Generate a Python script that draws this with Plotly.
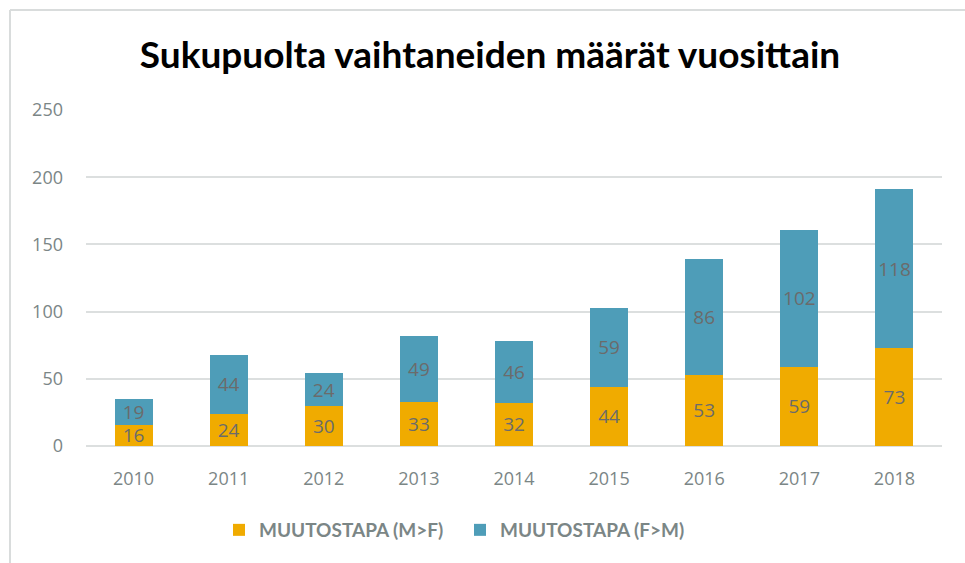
import plotly.graph_objects as go

years = ["2010", "2011", "2012", "2013", "2014", "2015", "2016", "2017", "2018"]
mtf = [16, 24, 30, 33, 32, 44, 53, 59, 73]
ftm = [19, 44, 24, 49, 46, 59, 86, 102, 118]
tick_vals = [0, 50, 100, 150, 200, 250]

W, H = 965, 563
L, R, T, B = 86, 23, 110, 117

fig = go.Figure()
fig.add_bar(x=years, y=mtf, name="<b>MUUTOSTAPA (M>F)</b>", marker_color="#F0AB00",
            text=mtf, textposition="inside", insidetextanchor="middle", textangle=0,
            constraintext="none",
            textfont=dict(color="#6b6b6b", size=19, family="Open Sans"), marker_line_width=0)
fig.add_bar(x=years, y=ftm, name="<b>MUUTOSTAPA (F>M)</b>", marker_color="#4E9DB8",
            text=ftm, textposition="inside", insidetextanchor="middle", textangle=0,
            constraintext="none",
            textfont=dict(color="#6b6b6b", size=19, family="Open Sans"), marker_line_width=0)

pw = W - L - R
ph = H - T - B
def px(x):
    return (x - L) / pw
def py(y):
    return (H - B - y) / ph

border = dict(color="#d9dcdc", width=2)
fig.add_shape(type="line", xref="paper", yref="paper",
              x0=px(10), x1=px(10), y0=py(10), y1=py(600), line=border, layer="above")
fig.add_shape(type="line", xref="paper", yref="paper",
              x0=px(10), x1=px(990), y0=py(10), y1=py(10), line=border, layer="above")

fig.update_layout(
    width=W, height=H,
    margin=dict(l=L, r=R, t=T, b=B),
    barmode="stack", bargap=0.6,
    plot_bgcolor="white", paper_bgcolor="white",
    title=dict(text="<b>Sukupuolta vaihtaneiden määrät vuosittain</b>",
               x=490 / W, xref="container", xanchor="center", y=1 - 55 / H, yanchor="middle",
               font=dict(family="Lato", size=37, color="black")),
    font=dict(family="Open Sans", color="#7b8686"),
    showlegend=True,
    legend=dict(orientation="h", x=px(219), xanchor="left", y=py(530), yanchor="middle",
                font=dict(size=19, color="#7b8686", family="Lato"),
                entrywidth=196, entrywidthmode="pixels",
                traceorder="normal"),
)
fig.update_xaxes(showgrid=False, showline=False, ticks="", tickfont=dict(size=18, color="#7b8686"),
                 ticklabelstandoff=20)
fig.update_yaxes(range=[0, 250], tickvals=tick_vals, showgrid=True, gridcolor="#dcdfdf",
                 gridwidth=1.5, zeroline=True, zerolinecolor="#dcdfdf", zerolinewidth=1.5,
                 tickfont=dict(size=18, color="#7b8686"), ticklabelstandoff=22, showline=False)

fig.write_html("out.html", config={"displayModeBar": False},
               post_script="document.body.style.margin='0';document.body.style.overflow='hidden';")
